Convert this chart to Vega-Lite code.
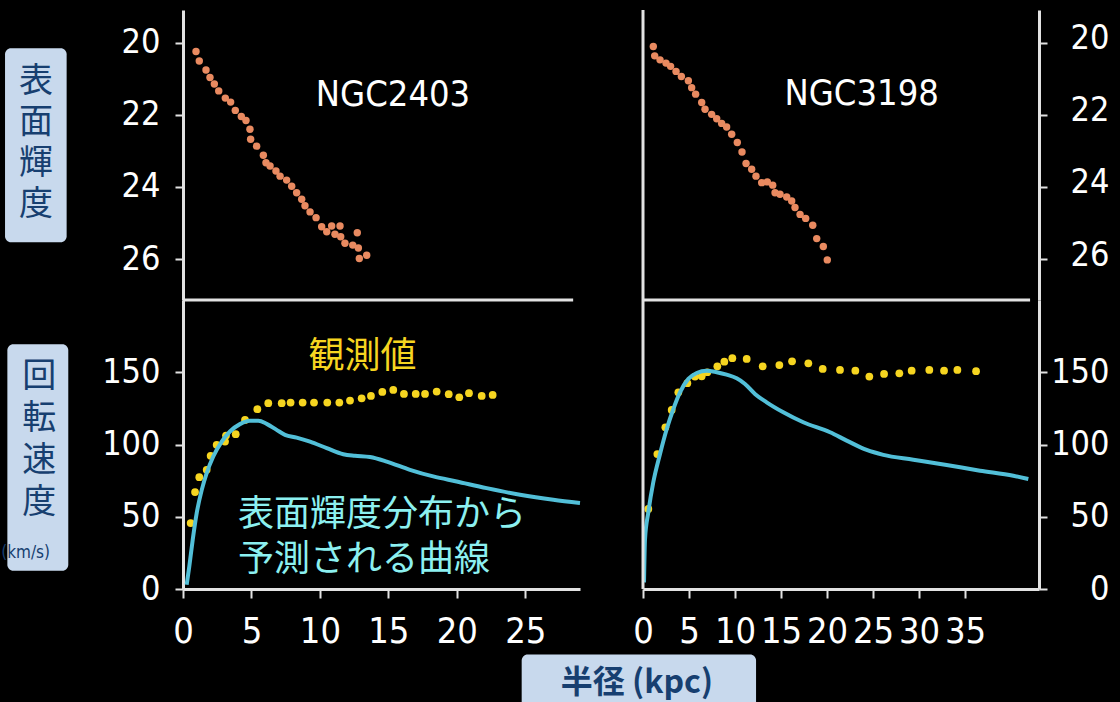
{
  "$schema": "https://vega.github.io/schema/vega-lite/v6.json",
  "background": "#000000",
  "autosize": {"type": "none"},
  "padding": {"left": 183, "top": 10, "right": 937, "bottom": 692},
  "config": {
    "view": {"stroke": null},
    "axis": {
      "domainColor": "#e2e2e2", "domainWidth": 3, "tickColor": "#e2e2e2", "tickWidth": 2,
      "labelColor": "#ffffff", "labelFont": "DejaVu Sans Condensed, Noto Sans",
      "grid": false, "title": null, "labelFlush": false, "labelOverlap": false, "labelBound": false
    }
  },
  "datasets": {
    "sb2403": [
      {"r": 0.95, "mu": 20.25}, {"r": 1.19, "mu": 20.51}, {"r": 1.68, "mu": 20.76}, {"r": 1.97, "mu": 20.97},
      {"r": 2.29, "mu": 21.15}, {"r": 2.61, "mu": 21.34}, {"r": 3.09, "mu": 21.54}, {"r": 3.48, "mu": 21.65},
      {"r": 3.82, "mu": 21.88}, {"r": 4.26, "mu": 22.05}, {"r": 4.6, "mu": 22.16}, {"r": 4.89, "mu": 22.4},
      {"r": 4.94, "mu": 22.68}, {"r": 5.38, "mu": 22.87}, {"r": 5.87, "mu": 23.12}, {"r": 6.06, "mu": 23.33},
      {"r": 6.36, "mu": 23.42}, {"r": 6.79, "mu": 23.56}, {"r": 7.09, "mu": 23.7}, {"r": 7.57, "mu": 23.81},
      {"r": 7.94, "mu": 23.98}, {"r": 8.3, "mu": 24.16}, {"r": 8.67, "mu": 24.34}, {"r": 8.91, "mu": 24.52},
      {"r": 9.28, "mu": 24.69}, {"r": 9.72, "mu": 24.85}, {"r": 10.13, "mu": 25.1}, {"r": 10.5, "mu": 25.24},
      {"r": 10.86, "mu": 25.08}, {"r": 11.47, "mu": 25.08}, {"r": 11.1, "mu": 25.31}, {"r": 11.52, "mu": 25.38},
      {"r": 11.83, "mu": 25.56}, {"r": 12.4, "mu": 25.61}, {"r": 12.81, "mu": 25.69}, {"r": 12.73, "mu": 25.27},
      {"r": 12.88, "mu": 25.98}, {"r": 13.42, "mu": 25.89}
    ],
    "sb3198": [
      {"r": 1.12, "mu": 20.11}, {"r": 1.27, "mu": 20.37}, {"r": 1.85, "mu": 20.48}, {"r": 2.5, "mu": 20.57},
      {"r": 3.0, "mu": 20.66}, {"r": 3.59, "mu": 20.8}, {"r": 4.17, "mu": 20.94}, {"r": 4.93, "mu": 21.06},
      {"r": 5.29, "mu": 21.25}, {"r": 5.72, "mu": 21.43}, {"r": 6.38, "mu": 21.66}, {"r": 6.74, "mu": 21.85},
      {"r": 7.46, "mu": 21.99}, {"r": 8.01, "mu": 22.11}, {"r": 8.55, "mu": 22.24}, {"r": 9.09, "mu": 22.34},
      {"r": 9.64, "mu": 22.54}, {"r": 10.25, "mu": 22.77}, {"r": 10.76, "mu": 23.03}, {"r": 11.2, "mu": 23.35},
      {"r": 11.81, "mu": 23.51}, {"r": 12.28, "mu": 23.7}, {"r": 12.9, "mu": 23.88}, {"r": 13.51, "mu": 23.86},
      {"r": 14.1, "mu": 23.95}, {"r": 14.35, "mu": 24.16}, {"r": 14.89, "mu": 24.2}, {"r": 15.62, "mu": 24.28},
      {"r": 16.16, "mu": 24.39}, {"r": 16.52, "mu": 24.57}, {"r": 17.07, "mu": 24.76}, {"r": 17.68, "mu": 24.87},
      {"r": 18.45, "mu": 25.06}, {"r": 18.88, "mu": 25.43}, {"r": 19.6, "mu": 25.65}, {"r": 20.03, "mu": 26.02}
    ],
    "v2403": [
      {"r": 0.56, "v": 45.6}, {"r": 0.88, "v": 67.1}, {"r": 1.19, "v": 77.4}, {"r": 1.73, "v": 82.5},
      {"r": 2.02, "v": 92.2}, {"r": 2.46, "v": 99.8}, {"r": 3.07, "v": 102.0}, {"r": 3.14, "v": 106.2},
      {"r": 3.85, "v": 107.1}, {"r": 4.53, "v": 117.0}, {"r": 5.43, "v": 124.4}, {"r": 6.23, "v": 128.6},
      {"r": 7.21, "v": 128.6}, {"r": 7.86, "v": 129.0}, {"r": 8.74, "v": 129.0}, {"r": 9.57, "v": 129.0},
      {"r": 10.54, "v": 129.0}, {"r": 11.42, "v": 129.0}, {"r": 12.2, "v": 130.4}, {"r": 13.05, "v": 132.0},
      {"r": 13.73, "v": 133.6}, {"r": 14.56, "v": 136.4}, {"r": 15.36, "v": 137.8}, {"r": 16.14, "v": 135.0},
      {"r": 17.0, "v": 135.0}, {"r": 17.68, "v": 135.0}, {"r": 18.53, "v": 136.6}, {"r": 19.41, "v": 134.8},
      {"r": 20.18, "v": 132.7}, {"r": 20.89, "v": 135.5}, {"r": 21.82, "v": 133.6}, {"r": 22.62, "v": 134.3}
    ],
    "m2403": [
      {"r": 0.27, "v": 3.0}, {"r": 0.46, "v": 15.6}, {"r": 0.71, "v": 34.1}, {"r": 1.0, "v": 52.5},
      {"r": 1.37, "v": 68.6}, {"r": 1.73, "v": 80.2}, {"r": 2.21, "v": 91.7}, {"r": 2.83, "v": 102.0},
      {"r": 3.43, "v": 109.0}, {"r": 4.16, "v": 114.1}, {"r": 4.89, "v": 116.4}, {"r": 5.5, "v": 116.4},
      {"r": 6.11, "v": 114.3}, {"r": 6.84, "v": 110.1}, {"r": 7.45, "v": 106.7}, {"r": 8.3, "v": 104.8},
      {"r": 9.28, "v": 102.0}, {"r": 10.5, "v": 97.5}, {"r": 11.71, "v": 93.3}, {"r": 12.56, "v": 92.2},
      {"r": 13.66, "v": 91.3}, {"r": 14.88, "v": 88.2}, {"r": 16.58, "v": 82.5}, {"r": 18.28, "v": 77.9},
      {"r": 19.99, "v": 74.4}, {"r": 22.18, "v": 69.8}, {"r": 24.62, "v": 65.2}, {"r": 27.05, "v": 61.7},
      {"r": 29.0, "v": 59.5}
    ],
    "v3198": [
      {"r": 0.58, "v": 55.4}, {"r": 1.56, "v": 93.4}, {"r": 2.43, "v": 111.9}, {"r": 3.12, "v": 123.9},
      {"r": 3.84, "v": 136.1}, {"r": 4.82, "v": 142.4}, {"r": 5.65, "v": 147.0}, {"r": 6.38, "v": 147.2},
      {"r": 6.99, "v": 150.0}, {"r": 8.08, "v": 154.1}, {"r": 8.84, "v": 157.3}, {"r": 9.71, "v": 159.7},
      {"r": 11.27, "v": 159.2}, {"r": 13.01, "v": 154.1}, {"r": 14.82, "v": 155.0}, {"r": 16.2, "v": 157.6},
      {"r": 17.97, "v": 156.2}, {"r": 19.53, "v": 152.3}, {"r": 21.41, "v": 151.6}, {"r": 23.08, "v": 151.1},
      {"r": 24.6, "v": 147.0}, {"r": 26.2, "v": 148.8}, {"r": 27.86, "v": 149.3}, {"r": 29.2, "v": 151.1},
      {"r": 31.12, "v": 151.6}, {"r": 32.72, "v": 151.1}, {"r": 34.17, "v": 151.6}, {"r": 36.2, "v": 150.7}
    ],
    "m3198": [
      {"r": 0.11, "v": 4.6}, {"r": 0.22, "v": 34.6}, {"r": 0.58, "v": 53.1}, {"r": 1.12, "v": 73.9},
      {"r": 1.85, "v": 93.4}, {"r": 2.58, "v": 110.7}, {"r": 3.3, "v": 124.6}, {"r": 4.02, "v": 136.1},
      {"r": 4.93, "v": 145.4}, {"r": 5.84, "v": 149.5}, {"r": 6.92, "v": 151.1}, {"r": 8.01, "v": 150.0},
      {"r": 9.09, "v": 148.3}, {"r": 10.18, "v": 145.8}, {"r": 11.09, "v": 141.9}, {"r": 12.17, "v": 135.0},
      {"r": 13.44, "v": 129.2}, {"r": 15.25, "v": 122.3}, {"r": 17.42, "v": 115.4}, {"r": 20.33, "v": 108.5},
      {"r": 22.14, "v": 102.7}, {"r": 24.31, "v": 96.2}, {"r": 26.12, "v": 92.8}, {"r": 29.38, "v": 89.5},
      {"r": 33.0, "v": 85.8}, {"r": 36.63, "v": 81.9}, {"r": 40.25, "v": 78.4}, {"r": 41.88, "v": 76.1}
    ]
  },
  "bounds": "flush",
  "columns": 2,
  "spacing": {"row": 0, "column": 63},
  "concat": [
    {
      "width": 397, "height": 290,
      "layer": [
        {
          "data": {"name": "sb2403"},
          "mark": {"type": "point", "filled": true, "size": 55, "color": "#e98a60", "opacity": 1},
          "encoding": {
            "x": {"field": "r", "type": "quantitative", "scale": {"domain": [0, 29], "nice": false, "zero": false}, "axis": null},
            "y": {"field": "mu", "type": "quantitative", "scale": {"domain": [19.1, 27.13], "reverse": true, "nice": false, "zero": false},
                  "axis": {"orient": "left", "values": [20, 22, 24, 26], "tickSize": 8, "labelPadding": 15, "labelFontSize": 34}}
          }
        },
        {
          "data": {"values": [{}]},
          "mark": {"type": "rect", "fill": "#c8d9ed", "cornerRadius": 6},
          "encoding": {
            "x": {"datum": -13.0, "type": "quantitative", "scale": {"domain": [0, 29], "nice": false, "zero": false}, "axis": null},
            "x2": {"datum": -8.5},
            "y": {"datum": 20.16, "type": "quantitative", "scale": {"domain": [19.1, 27.13], "reverse": true, "nice": false, "zero": false},
                  "axis": {"orient": "left", "values": [20, 22, 24, 26], "tickSize": 8, "labelPadding": 15, "labelFontSize": 34}},
            "y2": {"datum": 25.53}
          }
        },
        {
          "data": {"values": [{}]},
          "mark": {"type": "text", "text": "表\n面\n輝\n度", "lineBreak": "\n", "lineHeight": 41, "font": "Noto Sans CJK JP", "fontSize": 34, "color": "#173f70", "align": "center", "baseline": "middle"},
          "encoding": {
            "x": {"datum": -10.74, "type": "quantitative", "scale": {"domain": [0, 29], "nice": false, "zero": false}, "axis": null},
            "y": {"datum": 21.09, "type": "quantitative", "scale": {"domain": [19.1, 27.13], "reverse": true, "nice": false, "zero": false},
                  "axis": {"orient": "left", "values": [20, 22, 24, 26], "tickSize": 8, "labelPadding": 15, "labelFontSize": 34}}
          }
        },
        {
          "data": {"values": [{}]},
          "mark": {"type": "text", "text": "NGC2403", "font": "DejaVu Sans Condensed, Noto Sans", "fontSize": 36, "color": "#ffffff", "align": "center", "baseline": "middle"},
          "encoding": {
            "x": {"datum": 15.34, "type": "quantitative", "scale": {"domain": [0, 29], "nice": false, "zero": false}, "axis": null},
            "y": {"datum": 21.45, "type": "quantitative", "scale": {"domain": [19.1, 27.13], "reverse": true, "nice": false, "zero": false},
                  "axis": {"orient": "left", "values": [20, 22, 24, 26], "tickSize": 8, "labelPadding": 15, "labelFontSize": 34}}
          }
        },
        {
          "data": {"values": [{}]},
          "mark": {"type": "rule", "color": "#e2e2e2", "strokeWidth": 3},
          "encoding": {
            "x": {"datum": 0, "type": "quantitative", "scale": {"domain": [0, 29], "nice": false, "zero": false}, "axis": null},
            "x2": {"datum": 28.5},
            "y": {"datum": 27.13, "type": "quantitative", "scale": {"domain": [19.1, 27.13], "reverse": true, "nice": false, "zero": false},
                  "axis": {"orient": "left", "values": [20, 22, 24, 26], "tickSize": 8, "labelPadding": 15, "labelFontSize": 34}}
          }
        }
      ]
    },
    {
      "width": 396, "height": 290,
      "layer": [
        {
          "data": {"name": "sb3198"},
          "mark": {"type": "point", "filled": true, "size": 55, "color": "#e98a60", "opacity": 1},
          "encoding": {
            "x": {"field": "r", "type": "quantitative", "scale": {"domain": [0, 43.04], "nice": false, "zero": false}, "axis": null},
            "y": {"field": "mu", "type": "quantitative", "scale": {"domain": [19.1, 27.13], "reverse": true, "nice": false, "zero": false},
                  "axis": {"orient": "right", "values": [20, 22, 24, 26], "tickSize": 8, "labelPadding": 62, "labelAlign": "right", "labelOffset": -4, "labelFontSize": 34}}
          }
        },
        {
          "data": {"values": [{}]},
          "mark": {"type": "text", "text": "NGC3198", "font": "DejaVu Sans Condensed, Noto Sans", "fontSize": 36, "color": "#ffffff", "align": "center", "baseline": "middle"},
          "encoding": {
            "x": {"datum": 23.77, "type": "quantitative", "scale": {"domain": [0, 43.04], "nice": false, "zero": false}, "axis": null},
            "y": {"datum": 21.43, "type": "quantitative", "scale": {"domain": [19.1, 27.13], "reverse": true, "nice": false, "zero": false},
                  "axis": {"orient": "right", "values": [20, 22, 24, 26], "tickSize": 8, "labelPadding": 62, "labelAlign": "right", "labelOffset": -4, "labelFontSize": 34}}
          }
        },
        {
          "data": {"values": [{}]},
          "mark": {"type": "rule", "color": "#e2e2e2", "strokeWidth": 3},
          "encoding": {
            "x": {"datum": 0, "type": "quantitative", "scale": {"domain": [0, 43.04], "nice": false, "zero": false}, "axis": null}
          }
        },
        {
          "data": {"values": [{}]},
          "mark": {"type": "rule", "color": "#e2e2e2", "strokeWidth": 3},
          "encoding": {
            "x": {"datum": 0, "type": "quantitative", "scale": {"domain": [0, 43.04], "nice": false, "zero": false}, "axis": null},
            "x2": {"datum": 42.07},
            "y": {"datum": 27.13, "type": "quantitative", "scale": {"domain": [19.1, 27.13], "reverse": true, "nice": false, "zero": false},
                  "axis": {"orient": "right", "values": [20, 22, 24, 26], "tickSize": 8, "labelPadding": 62, "labelAlign": "right", "labelOffset": -4, "labelFontSize": 34}}
          }
        }
      ]
    },
    {
      "width": 397, "height": 289,
      "layer": [
        {
          "data": {"name": "v2403"},
          "mark": {"type": "point", "filled": true, "size": 60, "color": "#f6d520", "opacity": 1},
          "encoding": {
            "x": {"field": "r", "type": "quantitative", "scale": {"domain": [0, 29], "nice": false, "zero": false},
                  "axis": {"orient": "bottom", "values": [0, 5, 10, 15, 20, 25], "tickSize": 9, "labelPadding": 16, "labelFontSize": 36}},
            "y": {"field": "v", "type": "quantitative", "scale": {"domain": [0, 200], "nice": false, "zero": false},
                  "axis": {"orient": "left", "values": [0, 50, 100, 150], "tickSize": 8, "labelPadding": 15, "labelFontSize": 34}}
          }
        },
        {
          "data": {"name": "m2403"},
          "mark": {"type": "line", "color": "#52bfd8", "strokeWidth": 4, "interpolate": "monotone"},
          "encoding": {
            "x": {"field": "r", "type": "quantitative", "scale": {"domain": [0, 29], "nice": false, "zero": false},
                  "axis": {"orient": "bottom", "values": [0, 5, 10, 15, 20, 25], "tickSize": 9, "labelPadding": 16, "labelFontSize": 36}},
            "y": {"field": "v", "type": "quantitative", "scale": {"domain": [0, 200], "nice": false, "zero": false},
                  "axis": {"orient": "left", "values": [0, 50, 100, 150], "tickSize": 8, "labelPadding": 15, "labelFontSize": 34}}
          }
        },
        {
          "data": {"values": [{}]},
          "mark": {"type": "rect", "fill": "#c8d9ed", "cornerRadius": 6},
          "encoding": {
            "x": {"datum": -12.83, "type": "quantitative", "scale": {"domain": [0, 29], "nice": false, "zero": false},
                  "axis": {"orient": "bottom", "values": [0, 5, 10, 15, 20, 25], "tickSize": 9, "labelPadding": 16, "labelFontSize": 36}},
            "x2": {"datum": -8.38},
            "y": {"datum": 169.4, "type": "quantitative", "scale": {"domain": [0, 200], "nice": false, "zero": false},
                  "axis": {"orient": "left", "values": [0, 50, 100, 150], "tickSize": 8, "labelPadding": 15, "labelFontSize": 34}},
            "y2": {"datum": 12.65}
          }
        },
        {
          "data": {"values": [{}]},
          "mark": {"type": "text", "text": "回\n転\n速\n度", "lineBreak": "\n", "lineHeight": 42, "font": "Noto Sans CJK JP", "fontSize": 34, "color": "#173f70", "align": "center", "baseline": "middle"},
          "encoding": {
            "x": {"datum": -10.5, "type": "quantitative", "scale": {"domain": [0, 29], "nice": false, "zero": false},
                  "axis": {"orient": "bottom", "values": [0, 5, 10, 15, 20, 25], "tickSize": 9, "labelPadding": 16, "labelFontSize": 36}},
            "y": {"datum": 146.9, "type": "quantitative", "scale": {"domain": [0, 200], "nice": false, "zero": false},
                  "axis": {"orient": "left", "values": [0, 50, 100, 150], "tickSize": 8, "labelPadding": 15, "labelFontSize": 34}}
          }
        },
        {
          "data": {"values": [{}]},
          "mark": {"type": "text", "text": "(km/s)", "font": "DejaVu Sans Condensed, Noto Sans", "fontSize": 17, "color": "#173f70", "align": "center", "baseline": "middle"},
          "encoding": {
            "x": {"datum": -11.5, "type": "quantitative", "scale": {"domain": [0, 29], "nice": false, "zero": false},
                  "axis": {"orient": "bottom", "values": [0, 5, 10, 15, 20, 25], "tickSize": 9, "labelPadding": 16, "labelFontSize": 36}},
            "y": {"datum": 24.9, "type": "quantitative", "scale": {"domain": [0, 200], "nice": false, "zero": false},
                  "axis": {"orient": "left", "values": [0, 50, 100, 150], "tickSize": 8, "labelPadding": 15, "labelFontSize": 34}}
          }
        },
        {
          "data": {"values": [{}]},
          "mark": {"type": "rect", "fill": "#c8d9ed", "cornerRadius": 6},
          "encoding": {
            "x": {"datum": 24.74, "type": "quantitative", "scale": {"domain": [0, 29], "nice": false, "zero": false},
                  "axis": {"orient": "bottom", "values": [0, 5, 10, 15, 20, 25], "tickSize": 9, "labelPadding": 16, "labelFontSize": 36}},
            "x2": {"datum": 41.86},
            "y": {"datum": -45.4, "type": "quantitative", "scale": {"domain": [0, 200], "nice": false, "zero": false},
                  "axis": {"orient": "left", "values": [0, 50, 100, 150], "tickSize": 8, "labelPadding": 15, "labelFontSize": 34}},
            "y2": {"datum": -90}
          }
        },
        {
          "data": {"values": [{}]},
          "mark": {"type": "text", "text": "半径 (kpc)", "font": "Noto Sans CJK JP", "fontWeight": "bold", "fontSize": 32, "color": "#173f70", "align": "center", "baseline": "middle"},
          "encoding": {
            "x": {"datum": 33.16, "type": "quantitative", "scale": {"domain": [0, 29], "nice": false, "zero": false},
                  "axis": {"orient": "bottom", "values": [0, 5, 10, 15, 20, 25], "tickSize": 9, "labelPadding": 16, "labelFontSize": 36}},
            "y": {"datum": -64.8, "type": "quantitative", "scale": {"domain": [0, 200], "nice": false, "zero": false},
                  "axis": {"orient": "left", "values": [0, 50, 100, 150], "tickSize": 8, "labelPadding": 15, "labelFontSize": 34}}
          }
        },
        {
          "data": {"values": [{}]},
          "mark": {"type": "text", "text": "観測値", "font": "Noto Sans CJK JP", "fontSize": 36, "color": "#f6d520", "align": "center", "baseline": "middle"},
          "encoding": {
            "x": {"datum": 13.11, "type": "quantitative", "scale": {"domain": [0, 29], "nice": false, "zero": false},
                  "axis": {"orient": "bottom", "values": [0, 5, 10, 15, 20, 25], "tickSize": 9, "labelPadding": 16, "labelFontSize": 36}},
            "y": {"datum": 160.8, "type": "quantitative", "scale": {"domain": [0, 200], "nice": false, "zero": false},
                  "axis": {"orient": "left", "values": [0, 50, 100, 150], "tickSize": 8, "labelPadding": 15, "labelFontSize": 34}}
          }
        },
        {
          "data": {"values": [{}]},
          "mark": {"type": "text", "text": "表面輝度分布から", "font": "Noto Sans CJK JP", "fontSize": 36, "color": "#8cf0f0", "align": "left", "baseline": "middle"},
          "encoding": {
            "x": {"datum": 4.02, "type": "quantitative", "scale": {"domain": [0, 29], "nice": false, "zero": false},
                  "axis": {"orient": "bottom", "values": [0, 5, 10, 15, 20, 25], "tickSize": 9, "labelPadding": 16, "labelFontSize": 36}},
            "y": {"datum": 51.4, "type": "quantitative", "scale": {"domain": [0, 200], "nice": false, "zero": false},
                  "axis": {"orient": "left", "values": [0, 50, 100, 150], "tickSize": 8, "labelPadding": 15, "labelFontSize": 34}}
          }
        },
        {
          "data": {"values": [{}]},
          "mark": {"type": "text", "text": "予測される曲線", "font": "Noto Sans CJK JP", "fontSize": 36, "color": "#8cf0f0", "align": "left", "baseline": "middle"},
          "encoding": {
            "x": {"datum": 4.02, "type": "quantitative", "scale": {"domain": [0, 29], "nice": false, "zero": false},
                  "axis": {"orient": "bottom", "values": [0, 5, 10, 15, 20, 25], "tickSize": 9, "labelPadding": 16, "labelFontSize": 36}},
            "y": {"datum": 20.3, "type": "quantitative", "scale": {"domain": [0, 200], "nice": false, "zero": false},
                  "axis": {"orient": "left", "values": [0, 50, 100, 150], "tickSize": 8, "labelPadding": 15, "labelFontSize": 34}}
          }
        }
      ]
    },
    {
      "width": 396, "height": 289,
      "layer": [
        {
          "data": {"name": "v3198"},
          "mark": {"type": "point", "filled": true, "size": 60, "color": "#f6d520", "opacity": 1},
          "encoding": {
            "x": {"field": "r", "type": "quantitative", "scale": {"domain": [0, 43.04], "nice": false, "zero": false},
                  "axis": {"orient": "bottom", "values": [0, 5, 10, 15, 20, 25, 30, 35], "tickSize": 9, "labelPadding": 16, "labelFontSize": 36}},
            "y": {"field": "v", "type": "quantitative", "scale": {"domain": [0, 200], "nice": false, "zero": false},
                  "axis": {"orient": "right", "values": [0, 50, 100, 150], "tickSize": 8, "labelPadding": 62, "labelAlign": "right", "labelFontSize": 34}}
          }
        },
        {
          "data": {"name": "m3198"},
          "mark": {"type": "line", "color": "#52bfd8", "strokeWidth": 4, "interpolate": "monotone"},
          "encoding": {
            "x": {"field": "r", "type": "quantitative", "scale": {"domain": [0, 43.04], "nice": false, "zero": false},
                  "axis": {"orient": "bottom", "values": [0, 5, 10, 15, 20, 25, 30, 35], "tickSize": 9, "labelPadding": 16, "labelFontSize": 36}},
            "y": {"field": "v", "type": "quantitative", "scale": {"domain": [0, 200], "nice": false, "zero": false},
                  "axis": {"orient": "right", "values": [0, 50, 100, 150], "tickSize": 8, "labelPadding": 62, "labelAlign": "right", "labelFontSize": 34}}
          }
        },
        {
          "data": {"values": [{}]},
          "mark": {"type": "rule", "color": "#e2e2e2", "strokeWidth": 3},
          "encoding": {
            "x": {"datum": 0, "type": "quantitative", "scale": {"domain": [0, 43.04], "nice": false, "zero": false},
                  "axis": {"orient": "bottom", "values": [0, 5, 10, 15, 20, 25, 30, 35], "tickSize": 9, "labelPadding": 16, "labelFontSize": 36}}
          }
        }
      ]
    }
  ]
}
